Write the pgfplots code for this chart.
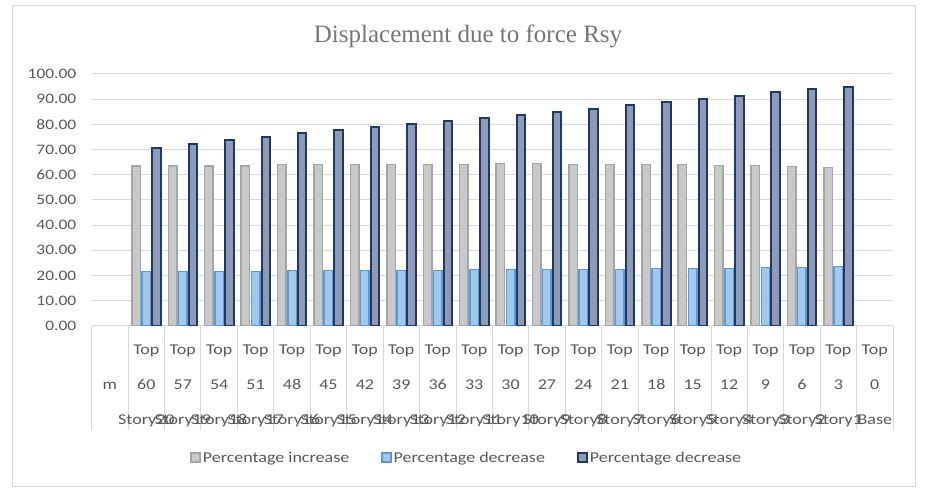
\documentclass[border=0pt]{standalone}
\usepackage{pgfplots}
\pgfplotsset{compat=1.18}
\usepackage{pgfplotstable}
\usepackage{fontspec}
\newfontfamily\lbl[FakeStretch=1.2]{Carlito}
\newfontfamily\ttl{Liberation Serif}
\definecolor{txt}{HTML}{595959}
\definecolor{ttxt}{HTML}{767676}
\definecolor{gridc}{HTML}{D9D9D9}
\definecolor{gfill}{HTML}{C9C9C9}
\definecolor{gdraw}{HTML}{A5A5A5}
\definecolor{lfill}{HTML}{A4C8EC}
\definecolor{ldraw}{HTML}{5B9BD5}
\definecolor{dfill}{HTML}{8D9BB8}
\definecolor{ddraw}{HTML}{203864}
\pgfplotstableread{
x inc dec1 dec2
1 63.45 21.45 70.7
2 63.45 21.45 72.3
3 63.45 21.45 73.9
4 63.45 21.45 75.1
5 64.0 21.85 76.7
6 64.0 21.85 77.9
7 64.0 21.85 79.1
8 64.0 21.85 80.3
9 64.0 21.85 81.4
10 64.0 22.4 82.6
11 64.4 22.4 83.8
12 64.4 22.4 85.0
13 64.0 22.4 86.2
14 64.0 22.4 87.8
15 64.0 22.8 89.0
16 64.0 22.8 90.2
17 63.6 22.8 91.4
18 63.6 23.2 93.0
19 63.2 23.2 94.2
20 62.8 23.6 95.0
}\datatable
\begin{document}
\begin{tikzpicture}
\useasboundingbox (0,0) rectangle (925pt,498pt);
\draw[gridc, line width=1pt] (12pt,12pt) rectangle (915pt,492pt);
\node[text=ttxt, font=\ttl\fontsize{25pt}{29pt}\selectfont, anchor=base] at (468pt,455pt) {Displacement due to force Rsy};
\foreach \k in {0,...,22} \draw[gridc, line width=1pt] ({91.7pt+\k*36.43pt},172.3pt) -- ++(0,-104pt);
\begin{axis}[
  at={(91.7pt,172.3pt)}, anchor=south west,
  scale only axis, width=801.3pt, height=251.7pt,
  xmin=-0.5, xmax=21.5, ymin=0, ymax=100,
  axis line style={draw=none},
  major tick length=0pt,
  ytick={0,10,...,100},
  ymajorgrids, grid style={gridc, line width=1pt},
  yticklabel style={text=txt, font=\lbl\fontsize{14.5pt}{17pt}\selectfont, xshift=-12pt,
    /pgf/number format/fixed, /pgf/number format/fixed zerofill, /pgf/number format/precision=2},
  /pgf/number format/assume math mode=true,
  xtick={0,...,21},
  xticklabels={{\phantom{Top}\\m\\\phantom{Story}},{Top\\60\\Story20},{Top\\57\\Story19},{Top\\54\\Story18},{Top\\51\\Story17},{Top\\48\\Story16},{Top\\45\\Story15},{Top\\42\\Story14},{Top\\39\\Story13},{Top\\36\\Story12},{Top\\33\\Story11},{Top\\30\\Story10},{Top\\27\\Story9},{Top\\24\\Story8},{Top\\21\\Story7},{Top\\18\\Story6},{Top\\15\\Story5},{Top\\12\\Story4},{Top\\9\\Story3},{Top\\6\\Story2},{Top\\3\\Story1},{Top\\0\\Base}},
  xticklabel style={text=txt, font=\lbl\fontsize{15pt}{35pt}\selectfont, align=center, anchor=north, yshift=-16pt},
  ybar=1.7pt, bar width=8.5pt,
  legend columns=3,
  legend style={at={(0.468,-0.524)}, anchor=center, draw=none, fill=none,
    font=\lbl\fontsize{15pt}{17pt}\selectfont, text=txt,
    /tikz/every even column/.append style={column sep=30pt}},
  legend image code/.code={\draw[#1] (0pt,-4.5pt) rectangle (9pt,4.5pt);},
]
\addplot[fill=gfill, draw=gdraw, line width=1.5pt] table[x=x,y=inc]{\datatable};
\addplot[fill=lfill, draw=ldraw, line width=1.5pt] table[x=x,y=dec1]{\datatable};
\addplot[fill=dfill, draw=ddraw, line width=2pt] table[x=x,y=dec2]{\datatable};
\legend{Percentage increase,Percentage decrease,Percentage decrease}
\end{axis}
\end{tikzpicture}
\end{document}
